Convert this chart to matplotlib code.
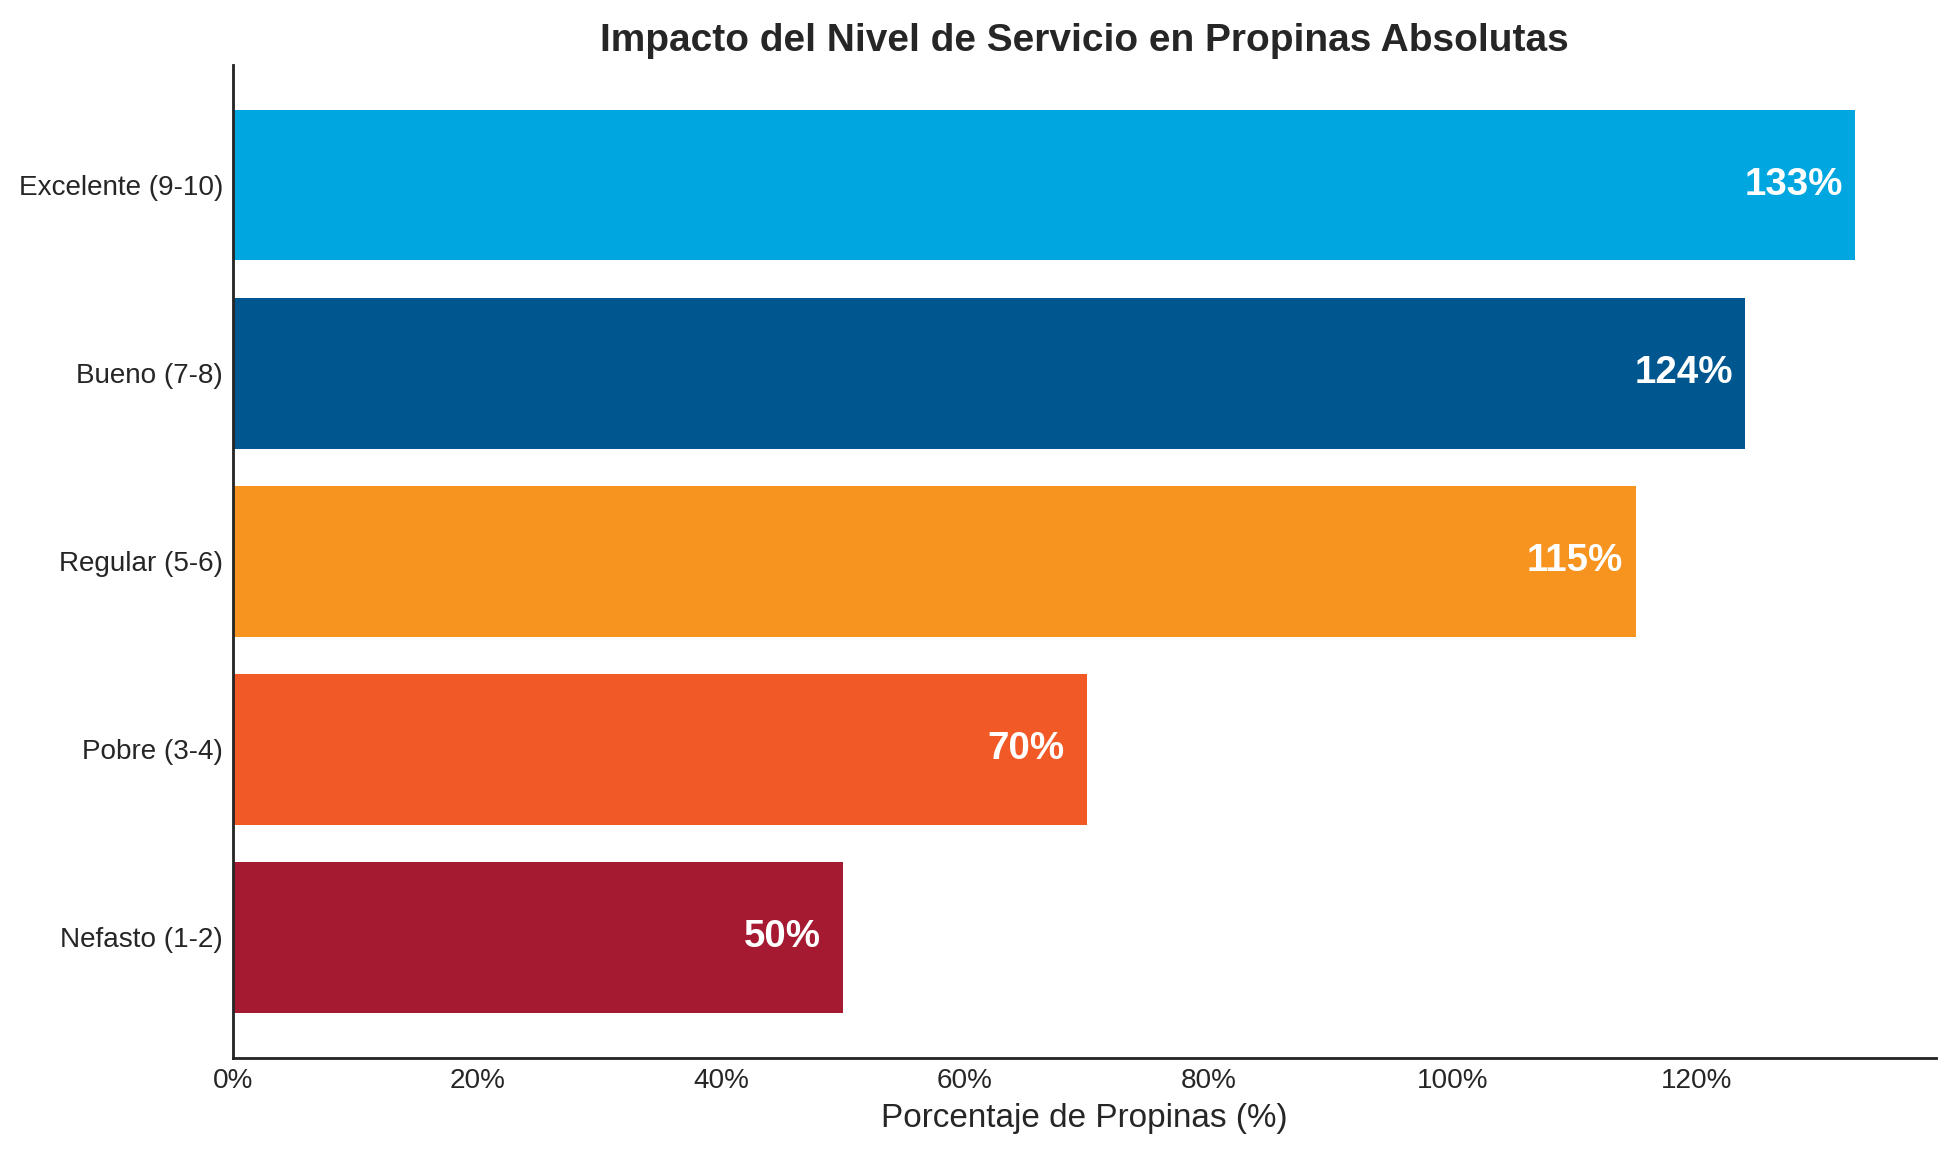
import numpy as np
import matplotlib
matplotlib.use("Agg")
import matplotlib.pyplot as plt
from matplotlib.ticker import FuncFormatter

# data (bottom to top)
categorias = ["Nefasto (1-2)", "Pobre (3-4)", "Regular (5-6)", "Bueno (7-8)", "Excelente (9-10)"]
porcentajes = [50, 70, 115, 124, 133]
colores = ["#A51931", "#F15A27", "#F7931F", "#00578F", "#00A6E0"]

plt.style.use("seaborn-v0_8-white")
plt.rcParams["font.family"] = ["Liberation Sans", "DejaVu Sans"]

fig = plt.figure(figsize=(12, 1156 / 163), dpi=163)
ax = fig.add_axes([0.1193, 0.0849, 0.8705, 0.859])

y = np.arange(len(categorias))
ax.barh(y, porcentajes, height=0.8, color=colores)

# value labels inside the bars
for yi, v in zip(y, porcentajes):
    ax.text(v - 5, yi, f"{v}%", ha="center", va="center",
            color="white", fontsize=17, fontweight="bold")

ax.set_yticks(y)
ax.set_yticklabels(categorias, fontsize=12.3, color=".15")
ax.set_xlim(0, max(porcentajes) * 1.05)
ax.xaxis.set_major_formatter(FuncFormatter(lambda x, _: f"{x:.0f}%"))
ax.tick_params(axis="x", labelsize=12.3, colors=".15")
ax.tick_params(axis="both", length=0, pad=4.5)

ax.set_xlabel("Porcentaje de Propinas (%)", fontsize=14.7, color=".15")
ax.set_title("Impacto del Nivel de Servicio en Propinas Absolutas",
             fontsize=17.2, fontweight="bold", color=".15")

for s in ["top", "right"]:
    ax.spines[s].set_visible(False)
for s in ["left", "bottom"]:
    ax.spines[s].set_color(".15")
    ax.spines[s].set_linewidth(1.25)

fig.savefig("out.png", dpi=163)
